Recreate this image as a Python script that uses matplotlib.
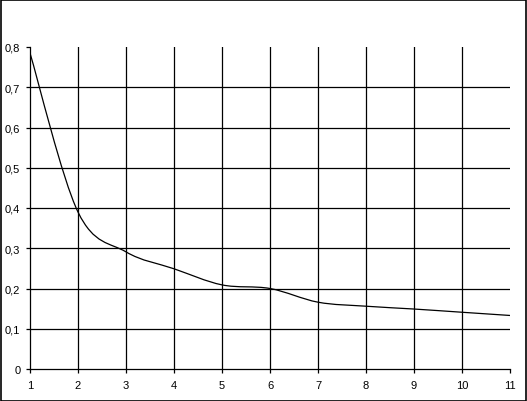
import matplotlib
matplotlib.use("Agg")
import matplotlib.pyplot as plt
from matplotlib.path import Path
from matplotlib.patches import PathPatch, Rectangle
from matplotlib.ticker import FuncFormatter

x_values = [1, 2, 3, 4, 5, 6, 7, 8, 9, 10, 11]
y_values = [0.785, 0.39, 0.291, 0.249, 0.209, 0.200, 0.166, 0.156, 0.149, 0.141, 0.133]
y_ticks = [0, 0.1, 0.2, 0.3, 0.4, 0.5, 0.6, 0.7, 0.8]

plt.rcParams['font.family'] = ['Liberation Sans', 'DejaVu Sans']

W, H = 527, 402
fig = plt.figure(figsize=(W / 100, H / 100), dpi=100)
fig.patches.append(Rectangle((0.5 / W, 0.5 / H), 1 - 1.5 / W, 1 - 1.5 / H,
                             transform=fig.transFigure, fill=False,
                             edgecolor='black', lw=1.2, zorder=10))
ax = fig.add_axes([30 / W, 32 / H, 480 / W, 322 / H])
ax.set_xlim(x_values[0], x_values[-1])
ax.set_ylim(y_ticks[0], y_ticks[-1])

# grid lines (Excel style: none on the outer edges)
for xv in x_values[1:-1]:
    ax.axvline(xv, color='black', lw=0.9, zorder=1)
for yv in y_ticks[1:-1]:
    ax.axhline(yv, color='black', lw=0.9, zorder=1)

# smoothed line (Catmull-Rom -> cubic Bezier, like Excel smoothing)
n = len(x_values)
verts = [(x_values[0], y_values[0])]
codes = [Path.MOVETO]
for i in range(n - 1):
    p0 = (x_values[max(i - 1, 0)], y_values[max(i - 1, 0)])
    p1 = (x_values[i], y_values[i])
    p2 = (x_values[i + 1], y_values[i + 1])
    p3 = (x_values[min(i + 2, n - 1)], y_values[min(i + 2, n - 1)])
    c1 = (p1[0] + (p2[0] - p0[0]) / 6, p1[1] + (p2[1] - p0[1]) / 6)
    c2 = (p2[0] - (p3[0] - p1[0]) / 6, p2[1] - (p3[1] - p1[1]) / 6)
    verts += [c1, c2, p2]
    codes += [Path.CURVE4, Path.CURVE4, Path.CURVE4]
patch = PathPatch(Path(verts, codes), facecolor='none', edgecolor='black', lw=0.9, zorder=3)
ax.add_patch(patch)

ax.set_xticks(x_values)
ax.set_yticks(y_ticks)
ax.yaxis.set_major_formatter(FuncFormatter(lambda v, p: ('%g' % v).replace('.', ',')))
ax.tick_params(axis='both', direction='out', length=3, width=0.9, labelsize=8, colors='black')
ax.tick_params(axis='x', pad=5)
ax.tick_params(axis='y', pad=4)

for s in ['top', 'right']:
    ax.spines[s].set_visible(False)
for s in ['left', 'bottom']:
    ax.spines[s].set_linewidth(0.9)
    ax.spines[s].set_color('black')

fig.savefig('out.png', dpi=100)
